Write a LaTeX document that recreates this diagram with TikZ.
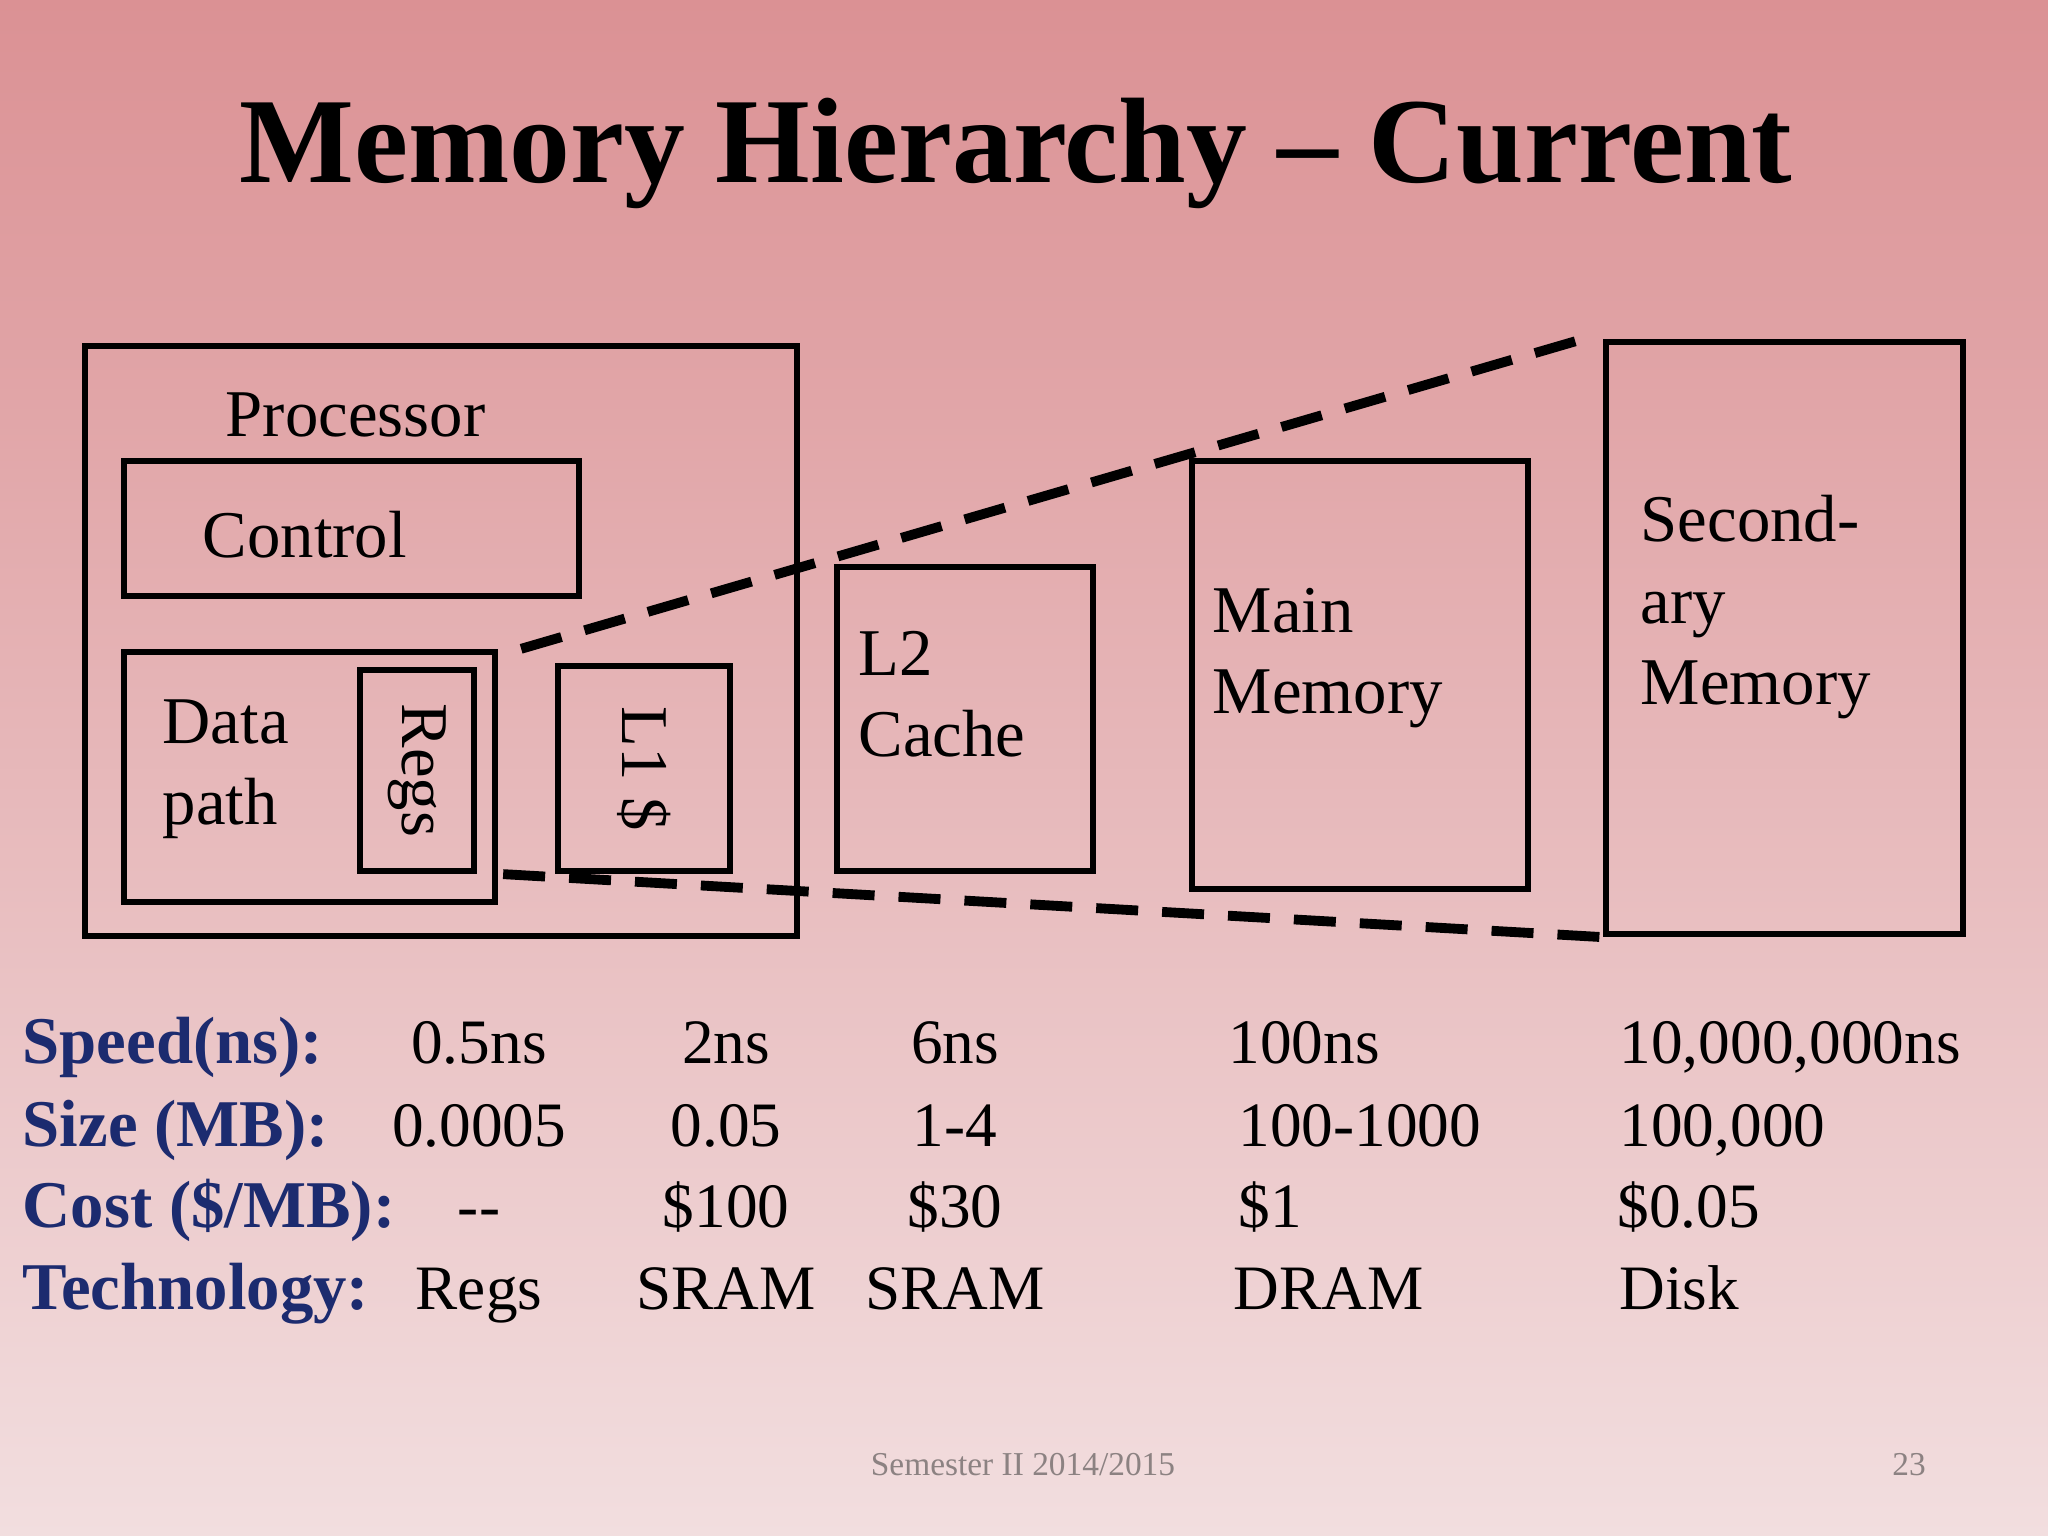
\documentclass[tikz,border=0pt]{standalone}
\usepackage{fontspec}
\setmainfont{Liberation Serif}
\usetikzlibrary{positioning, calc}
\definecolor{mhTop}{HTML}{DB9194}
\definecolor{mhMid}{HTML}{E6B5B8}
\definecolor{mhBottom}{HTML}{F2DEDF}
\definecolor{mhNavy}{HTML}{1C2B6F}
\definecolor{mhGray}{HTML}{8C8282}

\begin{document}
\begin{tikzpicture}[
  unitbox/.style={draw=black, line width=1.8pt, inner sep=0pt},
  boxlabel/.style={font=\fontsize{19}{23.3}\selectfont, align=left, anchor=base west, inner sep=0pt},
  rowlabel/.style={font=\fontsize{19}{22}\selectfont\bfseries, text=mhNavy, anchor=base west, inner sep=0pt},
  cellc/.style={font=\fontsize{18}{21}\selectfont, anchor=base, inner sep=0pt},
  celll/.style={font=\fontsize{18}{21}\selectfont, anchor=base west, inner sep=0pt},
  zoomline/.style={line width=2.8pt, dash pattern=on 0.42cm off 0.24cm}
]
  \shade[top color=mhTop, middle color=mhMid, bottom color=mhBottom] (0,0) rectangle (20.48,15.36);
  \useasboundingbox (0,0) rectangle (20.48,15.36);

  \node[font=\fontsize{34.6}{40}\selectfont\bfseries, anchor=base] (title) at (10.16,13.53) {Memory Hierarchy -- Current};

  % the levels
  \node[unitbox, minimum width=7.12cm, minimum height=5.90cm] (proc) at (4.41,8.95) {};
  \node[unitbox, minimum width=4.55cm, minimum height=1.35cm] (ctrl) at (3.515,10.075) {};
  \node[unitbox, minimum width=3.71cm, minimum height=2.50cm] (dp) at (3.095,7.59) {};
  \node[unitbox, minimum width=1.14cm, minimum height=2.01cm] (regs) at (4.17,7.655) {};
  \node[unitbox, minimum width=1.72cm, minimum height=2.05cm] (lone) at (6.44,7.675) {};
  \node[unitbox, minimum width=2.56cm, minimum height=3.04cm] (ltwo) at (9.65,8.17) {};
  \node[unitbox, minimum width=3.36cm, minimum height=4.28cm] (main) at (13.60,8.61) {};
  \node[unitbox, minimum width=3.57cm, minimum height=5.92cm] (sec) at (17.845,8.98) {};

  \node[boxlabel] (proct) at (2.25,10.99) {Processor};
  \node[boxlabel] (ctrlt) at (2.02,9.78) {Control};
  \node[boxlabel] (dpt) at (1.62,7.11) {Data\\path};
  \node[boxlabel, anchor=center, rotate=-90] (regst) at (regs.center) {Regs};
  \node[boxlabel, anchor=center, rotate=-90] (lonet) at (lone.center) {L1 \$};
  \node[boxlabel] (ltwot) at (8.58,7.79) {L2\\Cache};
  \node[boxlabel] (maint) at (12.12,8.22) {Main\\Memory};
  \node[boxlabel] (sect) at (16.40,8.31) {Second-\\ary\\Memory};

  \draw[zoomline] ([xshift=0.23cm]dp.north east) -- ([xshift=-0.19cm]sec.north west);
  \draw[zoomline] ([xshift=0.26cm]regs.south east) -- (sec.south west);

  % the table
  \node[rowlabel] (speed) at (0.22,4.72) {Speed(ns):};
  \node[cellc] (speedA) at (4.79,4.72) {0.5ns};
  \node[cellc] (speedB) at (7.26,4.72) {2ns};
  \node[cellc] (speedC) at (9.55,4.72) {6ns};
  \node[celll] (speedD) at (12.28,4.72) {100ns};
  \node[celll] (speedE) at (16.19,4.72) {10,000,000ns};

  \node[rowlabel] (size) at (0.22,3.89) {Size (MB):};
  \node[cellc] (sizeA) at (4.79,3.89) {0.0005};
  \node[cellc] (sizeB) at (7.26,3.89) {0.05};
  \node[cellc] (sizeC) at (9.55,3.89) {1-4};
  \node[celll] (sizeD) at (12.38,3.89) {100-1000};
  \node[celll] (sizeE) at (16.19,3.89) {100,000};

  \node[rowlabel] (cost) at (0.22,3.08) {Cost (\$/MB):};
  \node[cellc] (costA) at (4.79,3.08) {{-}{-}};
  \node[cellc] (costB) at (7.26,3.08) {\$100};
  \node[cellc] (costC) at (9.55,3.08) {\$30};
  \node[celll] (costD) at (12.38,3.08) {\$1};
  \node[celll] (costE) at (16.17,3.08) {\$0.05};

  \node[rowlabel] (tech) at (0.22,2.26) {Technology:};
  \node[cellc] (techA) at (4.79,2.26) {Regs};
  \node[cellc] (techB) at (7.26,2.26) {SRAM};
  \node[cellc] (techC) at (9.55,2.26) {SRAM};
  \node[celll] (techD) at (12.33,2.26) {DRAM};
  \node[celll] (techE) at (16.19,2.26) {Disk};

  \node[font=\fontsize{9.5}{11}\selectfont, text=mhGray, anchor=base] (foot) at (10.23,0.60) {Semester II 2014/2015};
  \node[font=\fontsize{9.5}{11}\selectfont, text=mhGray, anchor=base] (page) at (19.09,0.60) {23};
\end{tikzpicture}
\end{document}
